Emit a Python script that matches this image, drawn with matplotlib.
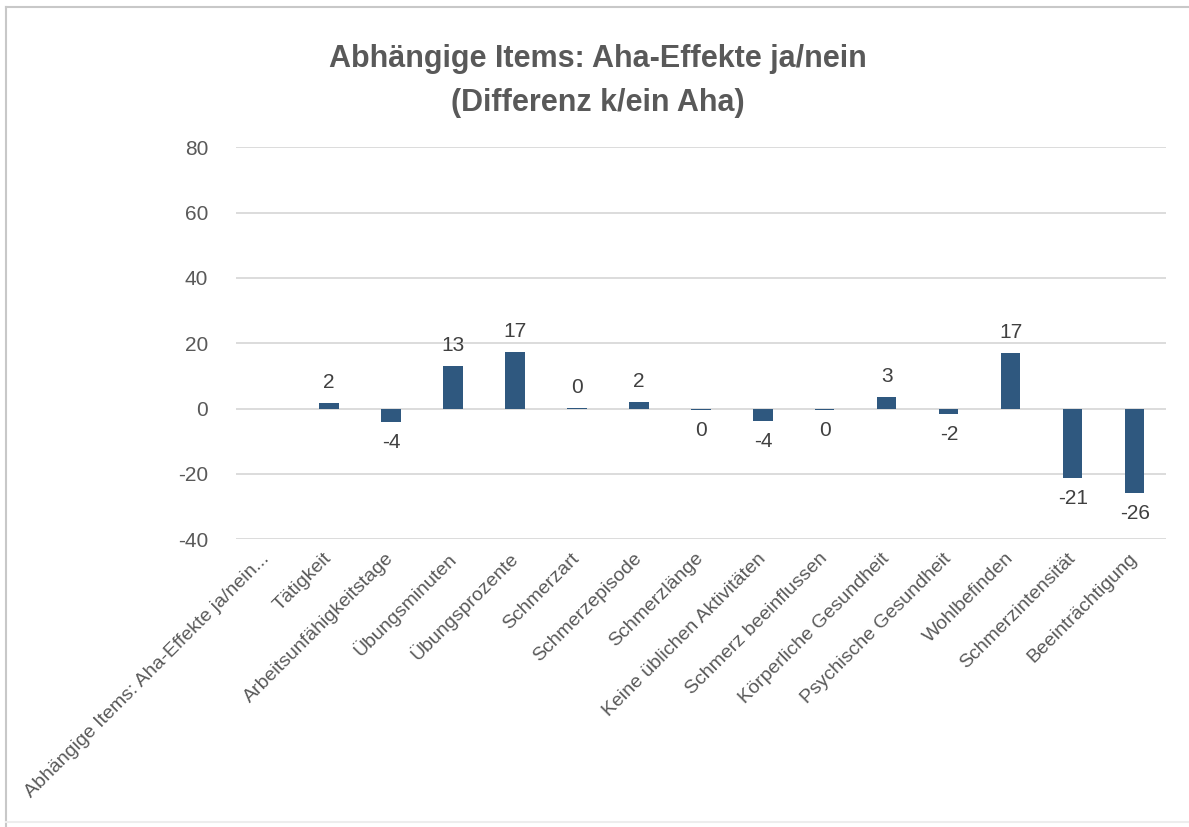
import numpy as np
import matplotlib.pyplot as plt
from matplotlib.lines import Line2D

# %%

categories = ['Abhängige Items: Aha-Effekte ja/nein...', 'Tätigkeit', 'Arbeitsunfähigkeitstage',
              'Übungsminuten', 'Übungsprozente', 'Schmerzart', 'Schmerzepisode', 'Schmerzlänge',
              'Keine üblichen Aktivitäten', 'Schmerz beeinflussen', 'Körperliche Gesundheit',
              'Psychische Gesundheit', 'Wohlbefinden', 'Schmerzintensität', 'Beeinträchtigung']
# first item has no value; near-zero entries are rounded to 0 in the labels
values = [np.nan, 1.8, -4.0, 13.0, 17.3, 0.2, 2.0, -0.3, -3.8, -0.3, 3.4, -1.6, 16.9, -21.2, -25.8]
yticks = [-40, -20, 0, 20, 40, 60, 80]

grey = '#595959'
bar_color = '#2F587F'
plt.rcParams['font.family'] = ['Liberation Sans', 'DejaVu Sans']
plt.rcParams['axes.unicode_minus'] = False

fig = plt.figure(figsize=(11.89, 8.27), dpi=100)
ax = fig.add_axes([0.1985, 0.348, 0.782, 0.474])

x = np.arange(len(categories))
bars = ax.bar(x, values, width=0.31, color=bar_color, zorder=3)

labels = ['' if np.isnan(v) else '%d' % round(v) for v in values]
ax.bar_label(bars, labels=labels, padding=8, fontsize=15, color='#404040')

ax.set_ylim(-40, 80)
ax.set_xlim(-0.5, len(categories) - 0.5)
ax.set_yticks(yticks)
ax.yaxis.grid(True, color='#D9D9D9', linewidth=1.3, zorder=0)
ax.tick_params(axis='both', length=0, colors=grey)
ax.tick_params(axis='y', labelsize=15, pad=20)
ax.set_xticks(x)
ax.set_xticklabels(categories, rotation=45, ha='right', va='center',
                   rotation_mode='anchor', fontsize=14, color=grey)
ax.tick_params(axis='x', pad=12)
for s in ax.spines.values():
    s.set_visible(False)

fig.text(0.503, 0.919, 'Abhängige Items: Aha-Effekte ja/nein', ha='center', va='baseline',
         fontsize=22, fontweight='bold', color=grey)
fig.text(0.503, 0.866, '(Differenz k/ein Aha)', ha='center', va='baseline',
         fontsize=22, fontweight='bold', color=grey)

# frame of the chart area (cropped on the right)
fig.add_artist(Line2D([0.005, 1.0], [0.991, 0.991], transform=fig.transFigure,
                      color='#C8C8C8', linewidth=1.5))
fig.add_artist(Line2D([0.005, 0.005], [0.0, 0.991], transform=fig.transFigure,
                      color='#C8C8C8', linewidth=1.5))
fig.add_artist(Line2D([0.005, 1.0], [0.006, 0.006], transform=fig.transFigure,
                      color='#EDEDED', linewidth=1.5))

fig.savefig('out.png', dpi=100)
